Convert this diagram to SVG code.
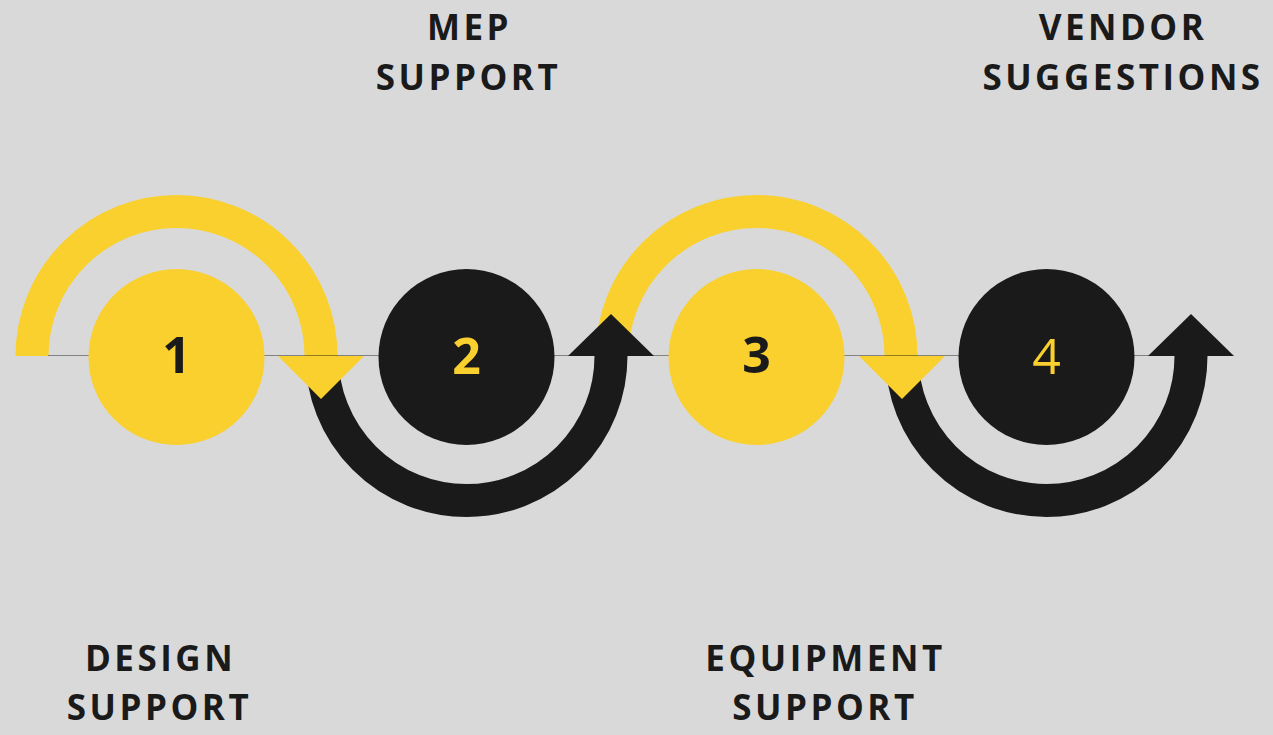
<svg xmlns="http://www.w3.org/2000/svg" width="1273" height="735" viewBox="0 0 1273 735">
<style>
.y{fill:#f9d02d}
.k{fill:#1a1a1a}
.ya{fill:none;stroke:#f9d02d;stroke-width:33}
.ka{fill:none;stroke:#1a1a1a;stroke-width:33}
.lbl{font-family:"Open Sans","Liberation Sans",sans-serif;font-weight:700;font-size:35px;letter-spacing:3.5px;fill:#1a1a1a;text-anchor:middle}
.num{font-family:"Open Sans","Liberation Sans",sans-serif;font-weight:700;font-size:50px;text-anchor:middle}
</style>
<rect width="1273" height="735" fill="#d9d9d9"/>
<g id="connectors">
<path class="ya" d="M 32 356 A 144.5 144.5 0 0 1 321 356"/>
<path class="ka" d="M 322 356 A 144.5 144.5 0 0 0 611 356"/>
<path class="ya" d="M 612 356 A 144.5 144.5 0 0 1 901 356"/>
<path class="ka" d="M 902 356 A 144.5 144.5 0 0 0 1191 356"/>
<line x1="48" y1="355.5" x2="1233" y2="355.5" stroke="#000" stroke-opacity="0.4" stroke-width="1"/>
<polygon class="y" points="278,356 364,356 321,399"/>
<polygon class="k" points="568,356 654,356 611,314"/>
<polygon class="y" points="859,356 945,356 902,399"/>
<polygon class="k" points="1148,356 1234,356 1191,314"/>
</g>
<g id="node1">
<circle class="y" cx="176.5" cy="357" r="88"/>
<text class="num" x="176.5" y="373" fill="#1a1a1a">1</text>
<text class="lbl" x="160.5" y="671">DESIGN</text>
<text class="lbl" x="159.5" y="720">SUPPORT</text>
</g>
<g id="node2">
<circle class="k" cx="466.5" cy="357" r="88"/>
<text class="num" x="466.5" y="374" fill="#f9d02d">2</text>
<text class="lbl" x="469.5" y="40">MEP</text>
<text class="lbl" x="468.5" y="90">SUPPORT</text>
</g>
<g id="node3">
<circle class="y" cx="756.5" cy="357" r="88"/>
<text class="num" x="756.5" y="373" fill="#1a1a1a">3</text>
<text class="lbl" x="825.5" y="671">EQUIPMENT</text>
<text class="lbl" x="825" y="720">SUPPORT</text>
</g>
<g id="node4">
<circle class="k" cx="1046.5" cy="357" r="88"/>
<text class="num" x="1046.5" y="374" fill="#f9d02d" style="font-weight:400">4</text>
<text class="lbl" x="1123" y="40">VENDOR</text>
<text class="lbl" x="1123" y="90">SUGGESTIONS</text>
</g>
</svg>
